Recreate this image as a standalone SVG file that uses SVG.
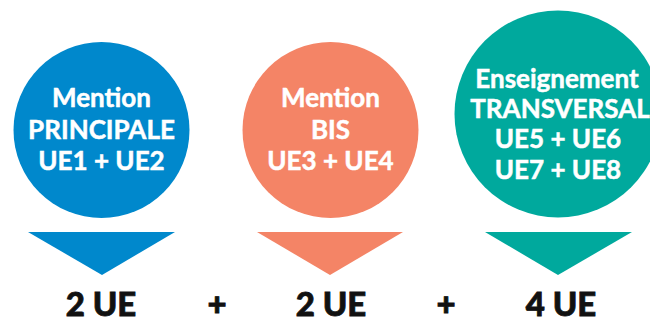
<svg xmlns="http://www.w3.org/2000/svg" width="650" height="323" viewBox="0 0 650 323">
<style>
.lbl{font-family:Lato,"Open Sans","Liberation Sans",sans-serif;font-weight:700;fill:#fff;stroke:#fff;stroke-width:0.5;text-anchor:middle;font-size:26px}
.tot{font-family:Lato,"Open Sans","Liberation Sans",sans-serif;font-weight:900;fill:#111;stroke:#111;stroke-width:0.8;text-anchor:middle;font-size:33px}
</style>
<rect width="650" height="323" fill="#fff"/>
<g id="mention-principale">
<circle cx="101.5" cy="130" r="88" fill="#0088CC"/>
<text class="lbl" x="101.5" y="107">Mention</text>
<text class="lbl" x="101.5" y="139">PRINCIPALE</text>
<text class="lbl" x="101.5" y="170">UE1 + UE2</text>
</g>
<g id="mention-bis">
<circle cx="330.5" cy="130" r="88" fill="#F48466"/>
<text class="lbl" x="330.5" y="107">Mention</text>
<text class="lbl" x="330.5" y="139">BIS</text>
<text class="lbl" x="330.5" y="170">UE3 + UE4</text>
</g>
<g id="enseignement-transversal">
<circle cx="558" cy="114" r="103.5" fill="#00A99D"/>
<text class="lbl" x="557" y="88">Enseignement</text>
<text class="lbl" x="560" y="118">TRANSVERSAL</text>
<text class="lbl" x="558" y="148">UE5 + UE6</text>
<text class="lbl" x="558" y="179">UE7 + UE8</text>
</g>
<g id="connectors">
<polygon points="28,232 175,232 102,275" fill="#0088CC"/>
<polygon points="257,232 403,232 330,275" fill="#F48466"/>
<polygon points="485,232 632,232 558,275" fill="#00A99D"/>
</g>
<g id="totals">
<text class="tot" x="101" y="316">2 UE</text>
<text class="tot" x="217" y="316">+</text>
<text class="tot" x="331" y="316">2 UE</text>
<text class="tot" x="446" y="316">+</text>
<text class="tot" x="561" y="316">4 UE</text>
</g>
</svg>
